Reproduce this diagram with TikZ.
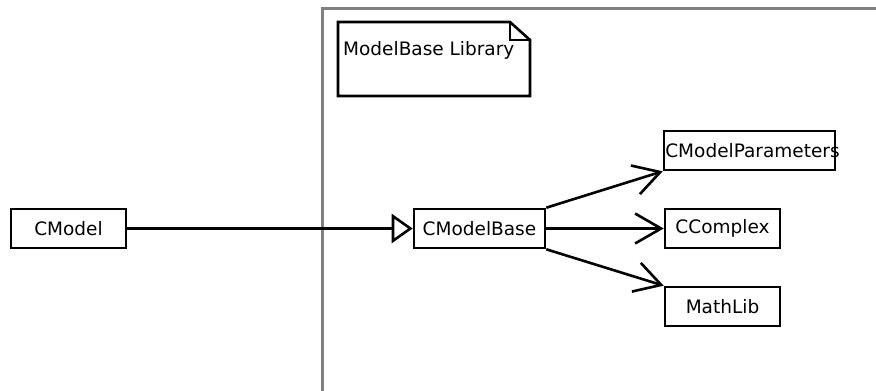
\documentclass[tikz,border=0pt]{standalone}
\usepackage{fontspec}
\setmainfont{DejaVu Sans}
\usetikzlibrary{arrows.meta}
\definecolor{framegray}{RGB}{128,128,128}
\begin{document}
\begin{tikzpicture}[x=1pt,y=-1pt,
  cls/.style={draw, line width=2.6pt, inner sep=0pt, minimum height=39pt,
              font=\fontsize{18.5}{21}\selectfont},
  dep/.style={line width=2.6pt, -{Straight Barb[length=26pt,width=30pt,line width=2.6pt]}},
  gen/.style={line width=2.6pt, -{Triangle[open,length=21pt,width=29pt,line width=2.6pt]}},
  notetext/.style={inner sep=0pt, font=\fontsize{18.5}{21}\selectfont}]
\useasboundingbox (0,0) rectangle (876,391);

% package frame
\draw[framegray, line width=3pt] (322,391) -- (322,8) -- (876,8);

% note with folded corner
\draw[line width=2.6pt, line join=miter] (338,22) -- (510,22) -- (530,40) -- (530,96) -- (338,96) -- cycle;
\draw[line width=2.6pt] (510,22) -- (510,40) -- (530,40);
\node[notetext, anchor=base west] (note) at (343,55) {ModelBase Library};

% classes
\node[cls, minimum width=115pt] (cmodel) at (68.5,228.5) {CModel};
\node[cls, minimum width=131pt] (base) at (479.5,228.5) {CModelBase};
\node[cls, minimum width=171pt] (params) at (749.5,150.5) {\makebox[0pt][c]{\hspace*{6pt}CModelParameters}};
\node[cls, minimum width=115pt] (complex) at (722.5,228.5) {CComplex};
\node[cls, minimum width=115pt] (mathlib) at (722.5,306.5) {MathLib};

% relations
\draw[gen] (cmodel.east) -- (base.west);
\draw[dep] (base.north east) -- (params.south west);
\draw[dep] (base.east) -- (complex.west);
\draw[dep] (base.south east) -- (mathlib.north west);
\end{tikzpicture}
\end{document}
